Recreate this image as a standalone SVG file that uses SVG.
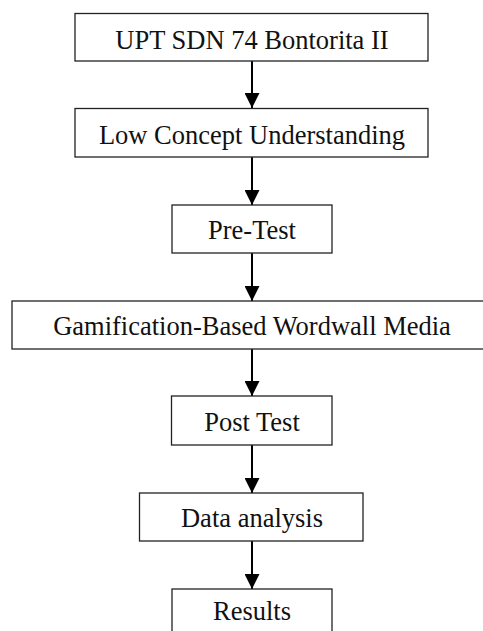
<svg xmlns="http://www.w3.org/2000/svg" width="483" height="631" viewBox="0 0 483 631">
  <defs>
    <marker id="arrow" markerUnits="userSpaceOnUse" markerWidth="16" markerHeight="15" refX="15" refY="7.5" orient="auto">
      <path d="M0,0 L15,7.5 L0,15 Z" fill="#000"/>
    </marker>
    <style>
      .box { fill: #fff; stroke: #222; stroke-width: 1.3; }
      .lbl { font-size: 26.5px; fill: #111; text-anchor: middle; }
      .conn { stroke: #000; stroke-width: 2; fill: none; marker-end: url(#arrow); }
    </style>
  </defs>
  <rect width="483" height="631" fill="#fff"/>
  <g id="connectors">
    <line class="conn" x1="252" y1="61" x2="252" y2="108"/>
    <line class="conn" x1="252" y1="157" x2="252" y2="205"/>
    <line class="conn" x1="252" y1="253" x2="252" y2="301"/>
    <line class="conn" x1="252" y1="349" x2="252" y2="396"/>
    <line class="conn" x1="252" y1="445" x2="252" y2="493"/>
    <line class="conn" x1="252" y1="541" x2="252" y2="589"/>
  </g>
  <g font-family="'Liberation Serif', 'Times New Roman', 'DejaVu Serif', serif">
  <g id="n1">
    <rect class="box" x="75" y="13.5" width="353" height="47.5"/>
    <text class="lbl" x="252" y="49">UPT SDN 74 Bontorita II</text>
  </g>
  <g id="n2">
    <rect class="box" x="75" y="108.5" width="353" height="48.5"/>
    <text class="lbl" x="252" y="144">Low Concept Understanding</text>
  </g>
  <g id="n3">
    <rect class="box" x="172" y="205" width="160" height="48"/>
    <text class="lbl" x="252" y="239">Pre-Test</text>
  </g>
  <g id="n4">
    <rect class="box" x="12" y="301" width="483" height="48"/>
    <text class="lbl" x="252" y="335">Gamification-Based Wordwall Media</text>
  </g>
  <g id="n5">
    <rect class="box" x="171.5" y="396" width="160.5" height="49"/>
    <text class="lbl" x="252" y="431">Post Test</text>
  </g>
  <g id="n6">
    <rect class="box" x="139.5" y="493" width="223.5" height="48"/>
    <text class="lbl" x="252" y="527">Data analysis</text>
  </g>
  <g id="n7">
    <rect class="box" x="172" y="589" width="160" height="52"/>
    <text class="lbl" x="252" y="620">Results</text>
  </g>
  </g>
</svg>
